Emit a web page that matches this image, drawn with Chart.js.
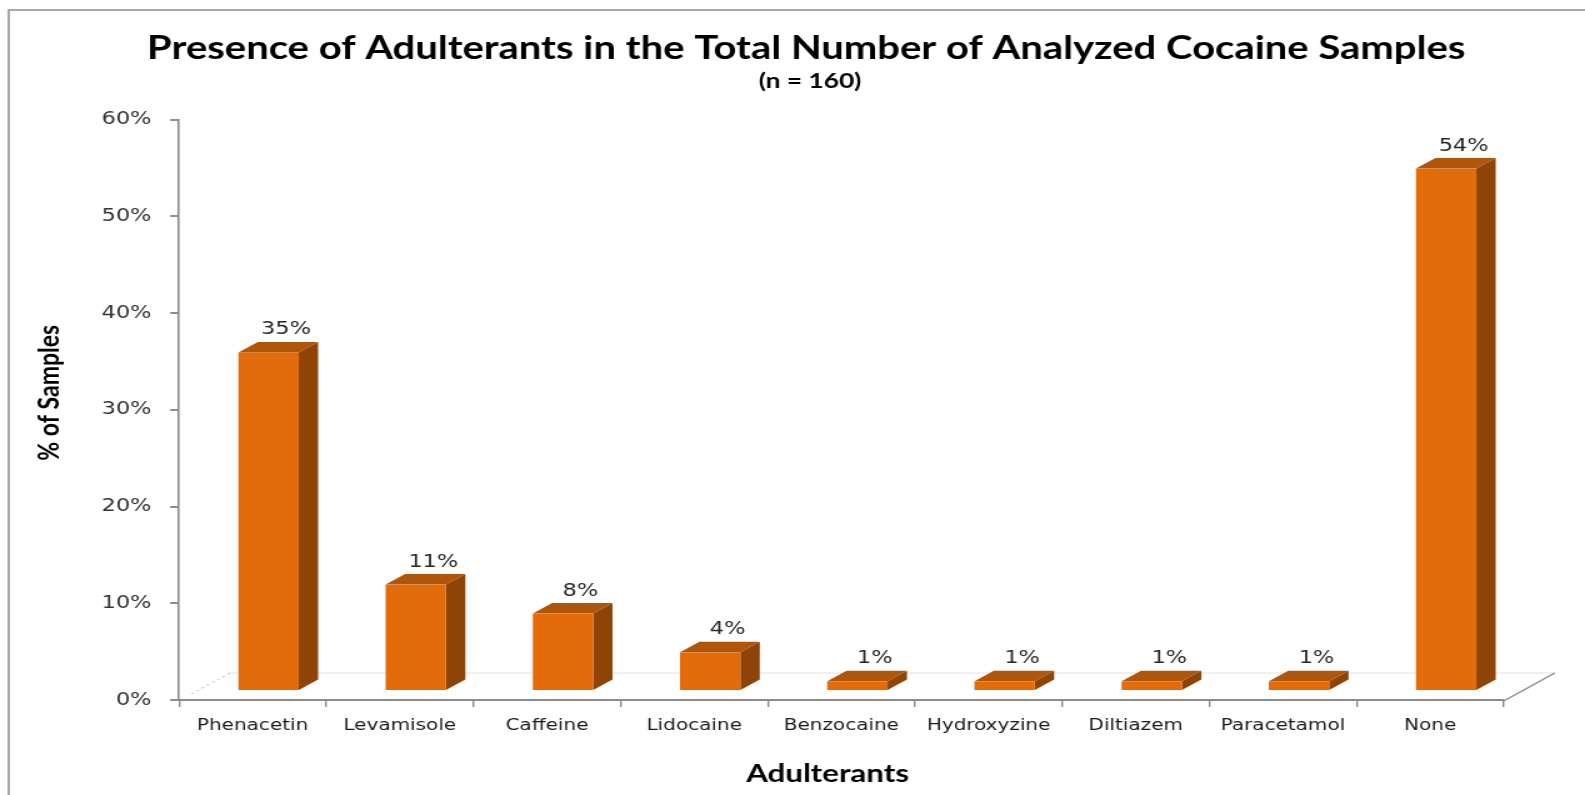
<!DOCTYPE html>
<html>
<head>
<meta charset="utf-8">
<title>Adulterants in Cocaine Samples</title>
<script src="https://cdn.jsdelivr.net/npm/chart.js@4.4.1/dist/chart.umd.min.js"></script>
<style>
  html, body { margin: 0; padding: 0; background: #fff; overflow: hidden; }
</style>
</head>
<body>
<!-- drawn narrow and stretched wide, like the exported figure -->
<canvas id="chart" width="1268" height="795" style="display:block;width:1585px;height:795px"></canvas>
<script>
const chartEl = document.getElementById("chart");

//Categories and share of samples (%)
const adulterants = ["Phenacetin", "Levamisole", "Caffeine", "Lidocaine", "Benzocaine", "Hydroxyzine", "Diltiazem", "Paracetamol", "None"];
const samplePercent = [35, 11, 8, 4, 1, 1, 1, 1, 54];
//y axis ticks
const percentTicks = [0, 10, 20, 30, 40, 50, 60];

const chartTitle = "Presence of Adulterants in the Total Number of Analyzed Cocaine Samples";
const chartSubtitle = "(n = 160)";

//colors of the 3d columns
const frontColor = "#e36c0a";
const topColor = "#b0560b";
const sideColor = "#8e4307";
const axisColor = "#8c8c8c";

//depth of the floor and of each column
const floorDX = 40.8, floorDY = 27;
const faceDX = 12.8, faceDY = 9;
const boxDX = 15.5, boxDY = 10.5;

//white background and the grey frame
const framePlugin = {
  id: "frame",
  beforeDraw(chart) {
    const c = chart.ctx;
    c.save();
    c.fillStyle = "#ffffff";
    c.fillRect(0, 0, chart.width, chart.height);
    c.strokeStyle = "#a8a8a8";
    c.lineWidth = 2;
    c.strokeRect(7, 10, chart.width + 20, chart.height + 20);
    c.restore();
  },
};

//floor edges behind the columns
const floorPlugin = {
  id: "floor",
  beforeDatasetsDraw(chart) {
    const { ctx: c, chartArea: a } = chart;
    c.save();
    c.strokeStyle = "#e0e0e0";
    c.lineWidth = 1;
    c.beginPath();
    c.moveTo(a.left + floorDX, a.bottom - floorDY);
    c.lineTo(a.right + floorDX, a.bottom - floorDY);
    c.stroke();

    c.strokeStyle = axisColor;
    c.lineWidth = 1.5;
    c.beginPath();
    c.moveTo(a.right, a.bottom + 1);
    c.lineTo(a.right + floorDX, a.bottom - floorDY);
    c.stroke();

    c.strokeStyle = "#d4d4d4";
    c.setLineDash([2, 3]);
    c.beginPath();
    c.moveTo(a.left + 10, a.bottom - 6);
    c.lineTo(a.left + floorDX, a.bottom - floorDY);
    c.stroke();
    c.restore();
  },
};

//3d columns built on the bar elements, with their value labels
const columnPlugin = {
  id: "columns",
  afterDatasetsDraw(chart) {
    const c = chart.ctx;
    const meta = chart.getDatasetMeta(0);
    c.save();
    meta.data.forEach((bar, i) => {
      const half = bar.width / 2;
      const x0 = bar.x - half + faceDX;
      const x1 = bar.x + half + faceDX;
      const top = bar.y - faceDY;
      const bottom = bar.base - faceDY;

      //side face
      c.fillStyle = sideColor;
      c.beginPath();
      c.moveTo(x1, top);
      c.lineTo(x1 + boxDX, top - boxDY);
      c.lineTo(x1 + boxDX, bottom - boxDY);
      c.lineTo(x1, bottom);
      c.closePath();
      c.fill();

      //top face
      c.fillStyle = topColor;
      c.beginPath();
      c.moveTo(x0, top);
      c.lineTo(x0 + boxDX, top - boxDY);
      c.lineTo(x1 + boxDX, top - boxDY);
      c.lineTo(x1, top);
      c.closePath();
      c.fill();

      //front face
      c.fillStyle = frontColor;
      c.fillRect(x0, top, x1 - x0, bottom - top);

      //value label
      c.fillStyle = "#262626";
      c.font = "18px 'DejaVu Sans'";
      c.textAlign = "center";
      c.textBaseline = "alphabetic";
      c.fillText(samplePercent[i] + "%", (x0 + x1) / 2 + 14, top - 18);
    });
    c.restore();
  },
};

//chart title, subtitle and axis titles
const titlesPlugin = {
  id: "titles",
  afterDraw(chart) {
    const { ctx: c, chartArea: a } = chart;
    c.save();
    c.fillStyle = "#000000";
    c.textAlign = "center";
    c.textBaseline = "middle";

    c.font = "bold 32px Lato";
    c.fillText(chartTitle, 645, 49);
    c.font = "bold 21px Lato";
    c.fillText(chartSubtitle, 648, 81);

    c.font = "bold 25px Lato";
    c.fillText("Adulterants", (a.left + a.right) / 2 - 11, a.bottom + 74);

    c.translate(a.left - 104, (a.top + a.bottom) / 2 - 17);
    c.rotate(-Math.PI / 2);
    c.font = "bold 23px Lato";
    c.fillText("% of Samples", 0, 0);
    c.restore();
  },
};

let myChart = new Chart(chartEl, {
  type: "bar",
  data: {
    labels: adulterants,
    datasets: [
      {
        data: samplePercent,
        //columns are painted by columnPlugin
        backgroundColor: "rgba(0,0,0,0)",
        borderWidth: 0,
        barPercentage: 0.41,
        categoryPercentage: 1,
      },
    ],
  },
  options: {
    responsive: false,
    devicePixelRatio: 1,
    animation: false,
    layout: { padding: { left: 0, right: 65, top: 119.5, bottom: 0 } },
    plugins: {
      legend: { display: false },
      tooltip: { enabled: false },
    },
    scales: {
      x: {
        offset: true,
        grid: {
          offset: true,
          drawOnChartArea: false,
          tickLength: 7,
          color: axisColor,
          lineWidth: 1.4,
        },
        border: { display: true, color: axisColor, width: 2 },
        ticks: {
          color: "#1a1a1a",
          font: { family: "DejaVu Sans", size: 16 },
          padding: 9,
          maxRotation: 0,
          autoSkip: false,
        },
        afterFit: (scale) => {
          scale.height = 95;
        },
      },
      y: {
        min: 0,
        max: 60,
        afterBuildTicks: (scale) => {
          scale.ticks = percentTicks.map((v) => ({ value: v }));
        },
        grid: {
          drawOnChartArea: false,
          tickLength: 7,
          color: axisColor,
          lineWidth: 2,
        },
        border: { color: axisColor, width: 1.6 },
        ticks: {
          color: "#333333",
          font: { family: "DejaVu Sans", size: 18 },
          padding: 15,
          callback: (v) => v + "%",
        },
        afterFit: (scale) => {
          scale.width = 143.2;
        },
      },
    },
  },
  plugins: [framePlugin, floorPlugin, columnPlugin, titlesPlugin],
});
</script>
</body>
</html>
